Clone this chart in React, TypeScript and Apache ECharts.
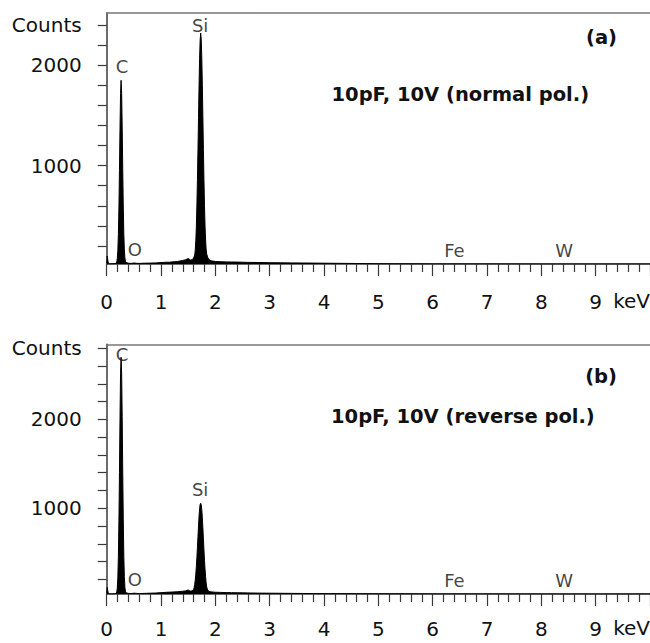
import React, { useEffect, useRef } from "react";
import * as echarts from "echarts";

// ---------- data ----------
const xTickLabels = [0, 1, 2, 3, 4, 5, 6, 7, 8, 9];

const yTicksA = [200, 400, 600, 800, 1000, 1200, 1400, 1600, 1800, 2000, 2200, 2400];
const yLabelsA = [1000, 2000, 2400];
const yTicksB = [200, 400, 600, 800, 1000, 1200, 1400, 1600, 1800, 2000, 2200, 2400, 2600, 2800];
const yLabelsB = [1000, 2000, 2800];

// [keV, counts] panel (a) normal polarity
const spectrumA: number[][] = [
  [0.0, 30], [0.01, 100], [0.02, 60], [0.03, 28], [0.05, 22], [0.1, 22], [0.15, 24], [0.18, 30],
  [0.185, 41], [0.195, 74], [0.205, 154], [0.215, 315], [0.225, 586], [0.235, 951], [0.245, 1376],
  [0.255, 1719], [0.265, 1850], [0.275, 1720], [0.285, 1390], [0.295, 970], [0.305, 590],
  [0.315, 320], [0.325, 160], [0.335, 80], [0.345, 48], [0.355, 35],
  [0.4, 28], [0.45, 26], [0.5, 30], [0.55, 27], [0.6, 26], [0.7, 28], [0.8, 29], [0.9, 31],
  [1.0, 34], [1.05, 36], [1.1, 38], [1.15, 37], [1.2, 41], [1.25, 43], [1.3, 45], [1.35, 50],
  [1.4, 56], [1.45, 62], [1.48, 70], [1.5, 74], [1.52, 68], [1.54, 60], [1.56, 62], [1.58, 66],
  [1.6, 80], [1.62, 110], [1.63, 160], [1.64, 250], [1.65, 390], [1.66, 600], [1.67, 860],
  [1.68, 1160], [1.69, 1480], [1.7, 1800], [1.71, 2070], [1.72, 2250], [1.73, 2320], [1.74, 2260],
  [1.75, 2080], [1.76, 1810], [1.77, 1490], [1.78, 1160], [1.79, 860], [1.8, 600], [1.81, 400],
  [1.82, 260], [1.83, 170], [1.84, 120], [1.86, 85], [1.88, 65], [1.92, 52],
  [2.0, 45], [2.1, 43], [2.2, 41], [2.3, 40], [2.4, 39], [2.5, 38], [2.6, 36], [2.8, 35],
  [3.0, 33], [3.2, 32], [3.4, 31], [3.6, 30], [3.8, 29], [4.0, 28], [4.2, 27], [4.4, 26],
  [4.6, 25], [4.8, 24], [5.0, 23], [5.3, 22], [5.6, 22], [6.0, 21], [7.0, 21], [8.0, 20],
  [9.0, 20], [10.0, 20],
];

// [keV, counts] panel (b) reverse polarity
const spectrumB: number[][] = [
  [0.0, 45], [0.01, 110], [0.02, 70], [0.03, 40], [0.05, 36], [0.1, 36], [0.15, 38], [0.18, 45],
  [0.185, 60], [0.195, 100], [0.205, 220], [0.215, 460], [0.225, 860], [0.235, 1400], [0.245, 2020],
  [0.255, 2520], [0.265, 2700], [0.275, 2510], [0.285, 2030], [0.295, 1420], [0.305, 870],
  [0.315, 460], [0.325, 230], [0.335, 110], [0.345, 65], [0.355, 48],
  [0.4, 42], [0.45, 40], [0.5, 44], [0.55, 42], [0.6, 40], [0.7, 42], [0.8, 44], [0.9, 46],
  [1.0, 50], [1.1, 54], [1.2, 57], [1.3, 60], [1.35, 63], [1.4, 66], [1.45, 70], [1.48, 76],
  [1.5, 80], [1.52, 74], [1.54, 68], [1.56, 70], [1.58, 76],
  [1.6, 86], [1.61, 109], [1.62, 144], [1.63, 193], [1.64, 259], [1.65, 343], [1.66, 444],
  [1.67, 559], [1.68, 681], [1.69, 802], [1.7, 912], [1.71, 995], [1.72, 1045], [1.73, 1056],
  [1.74, 1040], [1.75, 985], [1.76, 895], [1.77, 780], [1.78, 655], [1.79, 530], [1.8, 415],
  [1.81, 315], [1.82, 232], [1.83, 165], [1.84, 120], [1.85, 92], [1.87, 70], [1.9, 60],
  [2.0, 55], [2.1, 53], [2.2, 51], [2.3, 50], [2.4, 49], [2.5, 48], [2.6, 47], [2.8, 45],
  [3.0, 44], [3.2, 43], [3.4, 42], [3.6, 41], [3.8, 40], [4.0, 39], [4.3, 39], [4.6, 38],
  [5.0, 37], [5.5, 37], [6.0, 36], [7.0, 36], [8.0, 35], [9.0, 35], [10.0, 35],
];

// element labels: [name, keV, counts at label centre]
const peakLabelsA: [string, number, number][] = [
  ["C", 0.28, 1990], ["Si", 1.72, 2400], ["O", 0.52, 163], ["Fe", 6.4, 153], ["W", 8.42, 153],
];
const peakLabelsB: [string, number, number][] = [
  ["C", 0.28, 2730], ["Si", 1.72, 1210], ["O", 0.52, 195], ["Fe", 6.4, 183], ["W", 8.42, 183],
];

const titlesA = ["(a)", "10pF, 10V (normal pol.)"];
const titlesB = ["(b)", "10pF, 10V (reverse pol.)"];

// ---------- chart ----------
const FONT = '"DejaVu Sans", sans-serif';
const AXIS = "#3a3a3a";

function makeX(gridIndex: number, margin: number) {
  return {
    type: "value",
    gridIndex,
    min: 0,
    max: 10,
    interval: 1,
    position: "bottom",
    axisLine: { show: true, onZero: false, lineStyle: { color: AXIS, width: 1.5 } },
    axisTick: { show: true, length: 12, lineStyle: { color: AXIS, width: 1.2 } },
    minorTick: { show: true, splitNumber: 5, length: 8, lineStyle: { color: AXIS, width: 1.2 } },
    axisLabel: {
      customValues: xTickLabels,
      margin,
      color: "#111",
      fontFamily: FONT,
      fontSize: 20,
    },
    splitLine: { show: false },
    minorSplitLine: { show: false },
  };
}

function makeTop(gridIndex: number) {
  return {
    type: "value",
    gridIndex,
    min: 0,
    max: 10,
    position: "top",
    axisLine: { show: true, onZero: false, lineStyle: { color: "#777", width: 1.5 } },
    axisTick: { show: false },
    axisLabel: { show: false },
    splitLine: { show: false },
  };
}

function makeY(gridIndex: number, min: number, max: number, ticks: number[], labels: number[], countsAt: number) {
  return {
    type: "value",
    gridIndex,
    min,
    max,
    axisLine: { show: true, onZero: false, lineStyle: { color: AXIS, width: 1.5 } },
    axisTick: { show: true, customValues: ticks, length: 9, lineStyle: { color: AXIS, width: 1.2 } },
    axisLabel: {
      customValues: labels,
      margin: 25,
      color: "#111",
      fontFamily: FONT,
      fontSize: 20,
      formatter: (v: number) => (v === countsAt ? "Counts" : String(v)),
    },
    splitLine: { show: false },
  };
}

function spectrumSeries(idx: number, data: number[][]) {
  return {
    type: "line",
    xAxisIndex: idx,
    yAxisIndex: idx,
    data,
    showSymbol: false,
    symbol: "none",
    lineStyle: { color: "#000", width: 1 },
    areaStyle: { color: "#000", opacity: 1, origin: "start" },
    z: 3,
  };
}

function labelSeries(idx: number, labels: [string, number, number][]) {
  return {
    type: "scatter",
    xAxisIndex: idx,
    yAxisIndex: idx,
    symbolSize: 1,
    itemStyle: { color: "rgba(0,0,0,0)" },
    data: labels.map(([n, x, y]) => ({ name: n, value: [x, y] })),
    label: {
      show: true,
      position: "inside",
      formatter: "{b}",
      color: "#111",
      fontFamily: FONT,
      fontSize: 18,
    },
    z: 5,
  };
}

function titleText(text: string, x: number, y: number, align: string) {
  return {
    type: "text",
    x,
    y,
    style: {
      text,
      fill: "#111",
      font: `bold 19.5px ${FONT}`,
      align,
      verticalAlign: "middle",
    },
  };
}

function unitText(y: number) {
  return {
    type: "text",
    x: 650,
    y,
    style: {
      text: "keV",
      fill: "#111",
      font: `20px ${FONT}`,
      align: "right",
      verticalAlign: "middle",
    },
  };
}

export default function App() {
  const ref = useRef<HTMLDivElement>(null);
  useEffect(() => {
    if (!ref.current) return;
    const chart = echarts.init(ref.current, null, { renderer: "svg" });
    chart.setOption({
      animation: false,
      backgroundColor: "#fff",
      grid: [
        { left: 106.7, right: 0, top: 13, height: 251, outerBoundsMode: "none", containLabel: false },
        { left: 106.7, right: 0, top: 344.3, height: 249.7, outerBoundsMode: "none", containLabel: false },
      ],
      xAxis: [makeX(0, 28), makeX(1, 25), makeTop(0), makeTop(1)],
      yAxis: [
        makeY(0, 20, 2520, yTicksA, yLabelsA, 2400),
        makeY(1, 35, 2845, yTicksB, yLabelsB, 2800),
      ],
      series: [
        spectrumSeries(0, spectrumA),
        spectrumSeries(1, spectrumB),
        labelSeries(0, peakLabelsA),
        labelSeries(1, peakLabelsB),
      ],
      graphic: [
        titleText(titlesA[0], 617, 37, "right"),
        titleText(titlesA[1], 331.5, 94, "left"),
        titleText(titlesB[0], 617, 376, "right"),
        titleText(titlesB[1], 331, 416, "left"),
        unitText(301),
        unitText(628),
      ],
    });
    return () => chart.dispose();
  }, []);
  return (
    <div
      ref={ref}
      style={{ position: "absolute", left: 0, top: 0, width: 650, height: 643, background: "#fff" }}
    />
  );
}
